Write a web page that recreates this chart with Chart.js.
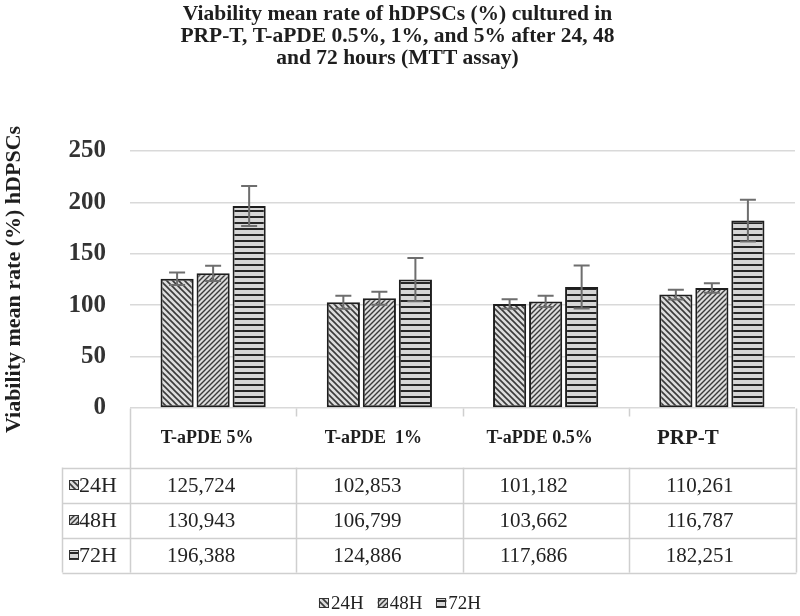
<!DOCTYPE html>
<html><head><meta charset="utf-8">
<script src="https://cdn.jsdelivr.net/npm/chart.js@4/dist/chart.umd.min.js"></script>
<style>html,body{margin:0;padding:0;background:#fff}#wrap{width:800px;height:616px;position:relative}</style>
</head><body><div id="wrap"><canvas id="c" width="800" height="616"></canvas></div>
<script>
// ---- data ----
const categories = ['T-aPDE 5%', 'T-aPDE  1%', 'T-aPDE 0.5%', 'PRP-T'];
const seriesNames = ['24H', '48H', '72H'];
const values24 = [125.724, 102.853, 101.182, 110.261];
const values48 = [130.943, 106.799, 103.662, 116.787];
const values72 = [196.388, 124.886, 117.686, 182.251];
const errors24 = [6.0, 6.3, 4.7, 4.7];
const errors48 = [7.4, 6.3, 5.5, 4.6];
const errors72 = [19.5, 21.0, 21.0, 20.3];
const yTicks = [0, 50, 100, 150, 200, 250];
const titleLines = ['Viability mean rate of hDPSCs (%) cultured in', 'PRP-T, T-aPDE 0.5%, 1%, and 5% after 24, 48', 'and 72 hours (MTT assay)'];
const yTitle = 'Viability mean rate (%) hDPSCs';

const SERIF = '"Liberation Serif", "Times New Roman", serif';

// ---- patterns ----
function makePattern(kind) {
  const c = document.createElement('canvas');
  const s = kind === 'h' ? 6 : (kind === 'b' ? 6 : 5);
  c.width = s; c.height = s;
  const g = c.getContext('2d');
  g.fillStyle = kind === 'h' ? '#d6d6d6' : '#dcdcdc';
  g.fillRect(0, 0, s, s);
  g.strokeStyle = '#3a3a3a';
  if (kind === 'h') {
    g.fillStyle = '#262626';
    g.fillRect(0, 0, s, 2);
  } else if (kind === 'b') {
    g.lineWidth = 1.6;
    g.beginPath();
    g.moveTo(-1, -1); g.lineTo(s + 1, s + 1);
    g.moveTo(-1, s - 1); g.lineTo(1, s + 1);
    g.moveTo(s - 1, -1); g.lineTo(s + 1, 1);
    g.stroke();
  } else {
    g.lineWidth = 1.4;
    g.beginPath();
    g.moveTo(-1, s + 1); g.lineTo(s + 1, -1);
    g.moveTo(-1, 1); g.lineTo(1, -1);
    g.moveTo(s - 1, s + 1); g.lineTo(s + 1, s - 1);
    g.stroke();
  }
  return g.createPattern(c, 'repeat');
}
const ctx0 = document.getElementById('c').getContext('2d');
const patterns = [makePattern('b'), makePattern('f'), makePattern('h')];
const seriesValues = [values24, values48, values72];
const seriesErrors = [errors24, errors48, errors72];

const fmt = v => v.toFixed(3).replace('.', ',');

const extrasPlugin = {
  id: 'extras',
  afterDatasetsDraw(chart) {
    const ctx = chart.ctx;
    const y = chart.scales.y;
    ctx.save();
    ctx.strokeStyle = '#6e6e6e';
    ctx.lineWidth = 2;
    chart.data.datasets.forEach((ds, di) => {
      const meta = chart.getDatasetMeta(di);
      meta.data.forEach((bar, i) => {
        const v = ds.data[i], e = seriesErrors[di][i];
        const yt = y.getPixelForValue(v + e), yb = y.getPixelForValue(v - e);
        ctx.beginPath();
        ctx.moveTo(bar.x, yt); ctx.lineTo(bar.x, yb);
        ctx.moveTo(bar.x - 8, yt); ctx.lineTo(bar.x + 8, yt);
        ctx.moveTo(bar.x - 8, yb); ctx.lineTo(bar.x + 8, yb);
        ctx.stroke();
      });
    });
    ctx.restore();
  },
  afterDraw(chart) {
    const ctx = chart.ctx;
    const a = chart.chartArea;
    const xs = chart.scales.x;
    const n = categories.length;
    const cw = (a.right - a.left) / n;
    const top = Math.round(a.bottom) + 0.5;
    const headBottom = top + 59;
    const rowH = 35;
    const tableBottom = headBottom + rowH * 3;
    const labelLeft = 62.5;
    const right = Math.round(a.right) + 1.5;
    const left = Math.round(a.left) + 0.5;
    ctx.save();
    ctx.strokeStyle = '#cfcfcf';
    ctx.lineWidth = 1.5;
    ctx.beginPath();
    ctx.moveTo(left, top); ctx.lineTo(left, tableBottom);
    ctx.moveTo(right, top); ctx.lineTo(right, tableBottom);
    for (let i = 1; i < n; i++) {
      const x = Math.round(a.left + cw * i) + 0.5;
      ctx.moveTo(x, top); ctx.lineTo(x, top + 8);
      ctx.moveTo(x, headBottom); ctx.lineTo(x, tableBottom);
    }
    ctx.moveTo(labelLeft, headBottom); ctx.lineTo(labelLeft, tableBottom);
    for (let r = 0; r <= 3; r++) {
      const yy = Math.round(headBottom + rowH * r) + 0.5;
      ctx.moveTo(labelLeft, yy); ctx.lineTo(right, yy);
    }
    ctx.stroke();

    // header labels
    ctx.fillStyle = '#1e1e1e';
    ctx.textAlign = 'center';
    ctx.textBaseline = 'middle';
    categories.forEach((c, i) => {
      const isLast = c === 'PRP-T';
      ctx.font = 'bold ' + (isLast ? 21 : 18) + 'px ' + SERIF;
      ctx.fillText(c, xs.getPixelForValue(i) - (isLast ? 24 : 6), top + 30);
    });
    // rows
    seriesValues.forEach((vals, r) => {
      const cy = headBottom + rowH * r + rowH / 2 + 1;
      ctx.font = '21px ' + SERIF;
      ctx.fillStyle = '#222';
      vals.forEach((v, i) => {
        ctx.textAlign = 'center';
        ctx.fillText(fmt(v), xs.getPixelForValue(i) - 12, cy);
      });
      ctx.fillStyle = patterns[r];
      ctx.fillRect(69, cy - 6, 10, 10);
      ctx.strokeStyle = '#333'; ctx.lineWidth = 1;
      ctx.strokeRect(69.5, cy - 5.5, 9, 9);
      ctx.fillStyle = '#222';
      ctx.textAlign = 'left';
      ctx.font = '22px ' + SERIF;
      ctx.fillText(seriesNames[r], 79, cy);
    });

    // legend
    ctx.font = '19px ' + SERIF;
    const gap = 14, box = 10, bgap = 2;
    const widths = seriesNames.map(s => box + bgap + ctx.measureText(s).width);
    const total = widths.reduce((p, q) => p + q, 0) + gap * (seriesNames.length - 1);
    let x = 400 - total / 2;
    const ly = 604;
    seriesNames.forEach((s, i) => {
      ctx.fillStyle = patterns[i];
      ctx.fillRect(x, ly - 6, box, box);
      ctx.strokeStyle = '#333'; ctx.lineWidth = 1;
      ctx.strokeRect(Math.round(x) + 0.5, ly - 5.5, box - 1, box - 1);
      ctx.fillStyle = '#222';
      ctx.textAlign = 'left';
      ctx.fillText(s, x + box + bgap, ly);
      x += widths[i] + gap;
    });
    ctx.restore();
  }
};

new Chart(ctx0, {
  type: 'bar',
  data: {
    labels: categories,
    datasets: seriesNames.map((name, i) => ({
      label: name,
      data: seriesValues[i],
      backgroundColor: patterns[i],
      borderColor: '#1e1e1e',
      borderWidth: 2,
      borderSkipped: false,
      categoryPercentage: 0.65,
      barPercentage: 0.92
    }))
  },
  options: {
    responsive: false,
    devicePixelRatio: 1,
    animation: false,
    layout: { padding: { left: 0, right: 5, top: 0, bottom: 208 } },
    plugins: {
      legend: { display: false },
      tooltip: { enabled: false },
      title: {
        display: true,
        text: titleLines,
        color: '#1e1e1e',
        font: { family: SERIF, size: 21.5, weight: 'bold', lineHeight: 1.03 },
        padding: { top: 3, bottom: 81.5 }
      }
    },
    scales: {
      x: { display: false },
      y: {
        min: 0, max: 250,
        afterBuildTicks: s => { s.ticks = yTicks.map(v => ({ value: v })); },
        afterFit: s => { s.width = 130; },
        border: { display: false },
        grid: { color: '#d9d9d9', lineWidth: 1.5, drawTicks: false },
        ticks: { color: '#333', padding: 24, font: { family: SERIF, size: 25, weight: 'bold' } },
        title: {
          display: true, text: yTitle, color: '#1e1e1e',
          font: { family: SERIF, size: 22, weight: 'bold' }, padding: { top: 1, bottom: 0 }
        }
      }
    }
  },
  plugins: [extrasPlugin]
});
</script>
</body></html>
